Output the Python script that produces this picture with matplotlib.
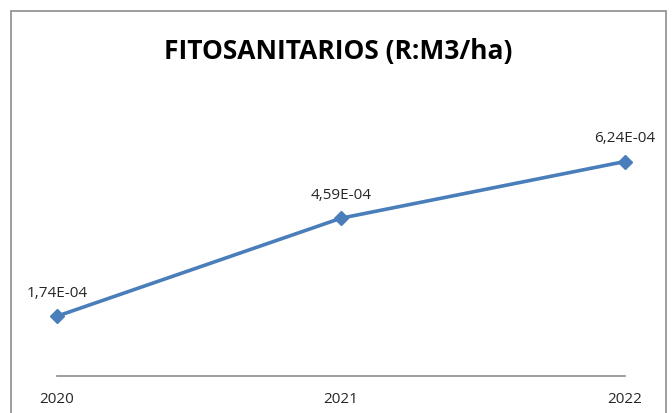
import matplotlib.pyplot as plt
from matplotlib.patches import Rectangle

years = ["2020", "2021", "2022"]
values = [1.74e-4, 4.59e-4, 6.24e-4]

plt.rcParams['font.family'] = ['Open Sans', 'DejaVu Sans']

fig = plt.figure(figsize=(6.72, 4.14), dpi=100)
fig.patch.set_facecolor('white')

# chart border (bottom runs off the image)
fig.patches.append(Rectangle((11 / 672, -0.1), 655 / 672, 1.1 - 12 / 414,
                             transform=fig.transFigure, fill=False,
                             edgecolor='#8c8c8c', linewidth=1.2))

ax = fig.add_axes([57 / 672, 37 / 414, 568 / 672, 275 / 414])
x = list(range(len(years)))
ax.plot(x, values, color='#4A7EBB', linewidth=2.6, marker='D', markersize=7.5,
        markeredgecolor='#4A7EBB', markerfacecolor='#4A7EBB', clip_on=False)

for xi, v in zip(x, values):
    label = "{:.2E}".format(v).replace(".", ",")
    ax.annotate(label, (xi, v), xytext=(0, 12), textcoords='offset points',
                ha='center', va='bottom', fontsize=11, color='#262626')

ax.set_xlim(0, 2)
ax.set_ylim(0, 8e-4)
ax.set_xticks(x)
ax.set_xticklabels(years, fontsize=11, color='#262626')
ax.tick_params(axis='x', length=0, pad=11)
ax.set_yticks([])
for s in ['top', 'right', 'left']:
    ax.spines[s].set_visible(False)
ax.spines['bottom'].set_color('#8c8c8c')
ax.spines['bottom'].set_linewidth(1.2)

fig.text(338 / 672, 1 - 52 / 414, "FITOSANITARIOS (R:M3/ha)", ha='center',
         va='center', fontsize=19, fontweight='bold', color='black')

fig.savefig("out.png", dpi=100)
